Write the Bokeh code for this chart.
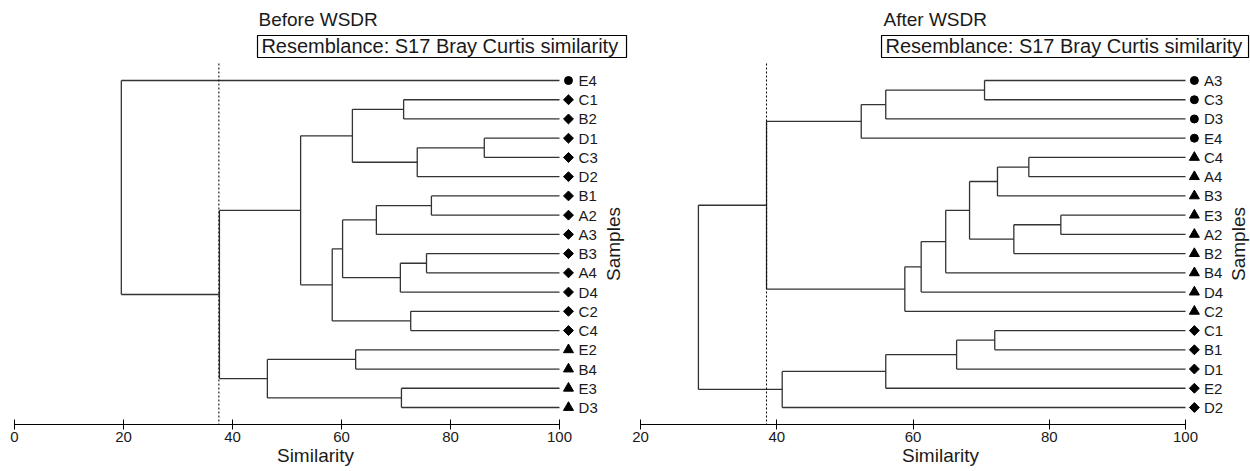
from bokeh.plotting import figure
from bokeh.layouts import row
from bokeh.models import Range1d, FixedTicker, ColumnDataSource, BoxAnnotation, Label
from bokeh.core.properties import value
from bokeh.embed import file_html
from bokeh.resources import INLINE

# ---------------- data ----------------
left_title = "Before WSDR"
right_title = "After WSDR"
resemblance = "Resemblance: S17 Bray Curtis similarity"
x_label = "Similarity"
y_label = "Samples"

left_leaves = ["E4", "C1", "B2", "D1", "C3", "D2", "B1", "A2", "A3",
               "B3", "A4", "D4", "C2", "C4", "E2", "B4", "E3", "D3"]
left_groups = ["g1"] + ["g2"] * 13 + ["g3"] * 4
# merges: (child a, child b, similarity); "mK" refers to merge K
left_merges = [
    ("C1", "B2", 71.4), ("D1", "C3", 86.2), ("m1", "D2", 73.9), ("m0", "m2", 62.0),
    ("B1", "A2", 76.5), ("m4", "A3", 66.4), ("B3", "A4", 75.6), ("m6", "D4", 70.8),
    ("m5", "m7", 60.2), ("C2", "C4", 72.7), ("m8", "m9", 58.3), ("m3", "m10", 52.5),
    ("E2", "B4", 62.6), ("E3", "D3", 71.0), ("m12", "m13", 46.4), ("m11", "m14", 37.6),
    ("E4", "m15", 19.6),
]
left_cut = 37.5
left_ticks = [0, 20, 40, 60, 80, 100]

right_leaves = ["A3", "C3", "D3", "E4", "C4", "A4", "B3", "E3", "A2",
                "B2", "B4", "D4", "C2", "C1", "B1", "D1", "E2", "D2"]
right_groups = ["g1"] * 4 + ["g3"] * 9 + ["g2"] * 5
right_merges = [
    ("A3", "C3", 70.5), ("m0", "D3", 56.0), ("m1", "E4", 52.4),
    ("C4", "A4", 77.0), ("m3", "B3", 72.4), ("E3", "A2", 81.7), ("m5", "B2", 74.8),
    ("m4", "m6", 68.3), ("m7", "B4", 64.8), ("m8", "D4", 61.2), ("m9", "C2", 58.8),
    ("m2", "m10", 38.5),
    ("C1", "B1", 72.0), ("m12", "D1", 66.4), ("m13", "E2", 56.0), ("m14", "D2", 40.8),
    ("m11", "m15", 28.5),
]
right_cut = 38.5
right_ticks = [20, 40, 60, 80, 100]

# ---------------- style ----------------
FONT = "Liberation Sans"
MARKERS = {"g1": "circle", "g2": "square", "g3": "triangle"}
MSIZE = {"g1": 8, "g2": 7, "g3": 10}
MANGLE = {"g1": 0.0, "g2": 0.7854, "g3": 0.0}
LINE = "#333333"
TXT = "#1a1a1a"
H = 471
Y_TOP, Y_BOT = -4.159, 17.884   # leaf-index units at top of canvas / axis line


def dendro_segments(leaves, merges):
    pos = {name: (100.0, float(i)) for i, name in enumerate(leaves)}
    x0, y0, x1, y1 = [], [], [], []
    for k, (a, b, h) in enumerate(merges):
        xa, ya = pos[a]
        xb, yb = pos[b]
        for (xc, yc) in ((xa, ya), (xb, yb)):
            x0.append(xc); y0.append(yc); x1.append(h); y1.append(yc)
        x0.append(h); y0.append(ya); x1.append(h); y1.append(yb)
        pos["m%d" % k] = (h, (ya + yb) / 2.0)
    return dict(x0=x0, y0=y0, x1=x1, y1=y1)


def panel(width, xr, leaves, groups, merges, cut, ticks, title, lay):
    p = figure(width=width, height=H, x_range=Range1d(*xr), y_range=Range1d(Y_BOT, Y_TOP),
               output_backend="svg", toolbar_location=None, y_axis_location=None,
               min_border_left=0, min_border_right=0, min_border_top=0,
               min_border_bottom=47)
    p.outline_line_color = None
    p.xgrid.visible = False
    p.ygrid.visible = False

    ax = p.xaxis[0]
    ax.bounds = (ticks[0], ticks[-1])
    ax.ticker = FixedTicker(ticks=ticks)
    ax.minor_tick_line_color = None
    ax.major_tick_in = 5
    ax.major_tick_out = 5
    ax.major_label_standoff = 2
    ax.axis_line_color = "black"
    ax.major_tick_line_color = "black"
    ax.major_label_text_font = FONT
    ax.major_label_text_font_size = "15px"
    ax.major_label_text_color = TXT
    ax.axis_label = x_label
    ax.axis_label_standoff = 0
    ax.axis_label_text_font = FONT
    ax.axis_label_text_font_size = "19px"
    ax.axis_label_text_font_style = "normal"
    ax.axis_label_text_color = TXT

    seg = ColumnDataSource(dendro_segments(leaves, merges))
    p.segment("x0", "y0", "x1", "y1", source=seg, line_color=LINE, line_width=1.3)

    # cut-off line
    p.segment(x0=[cut], y0=[lay["dash_top"]], x1=[cut], y1=[Y_BOT],
              line_color="black", line_width=1, line_dash="2 2")

    idx = list(range(len(leaves)))
    for g in ("g1", "g2", "g3"):
        ys = [i for i in idx if groups[i] == g]
        p.scatter(x=[lay["mx"]] * len(ys), y=ys, marker=MARKERS[g], size=MSIZE[g],
                  angle=MANGLE[g], color="black")
    p.text(x=[lay["lx"]] * len(leaves), y=idx, text=leaves, text_font=value(FONT),
           text_font_size="15px", text_baseline="middle", text_align="left",
           text_color=TXT)

    p.add_layout(Label(x=lay["sx"], y=8.5, text=y_label, angle=1.5708,
                       text_font=FONT, text_font_size="19px",
                       text_align="center", text_baseline="middle", text_color=TXT))
    p.add_layout(Label(x=lay["tx"], y=-3.17, text=title, text_font=FONT,
                       text_font_size="19px", text_baseline="middle", text_color=TXT))
    p.add_layout(BoxAnnotation(left=lay["bl"], right=lay["br"], top=-2.339, bottom=-1.196,
                               fill_color=None, fill_alpha=0, line_color="black",
                               line_alpha=1.0, line_width=1.2))
    p.add_layout(Label(x=lay["rx"], y=-1.768, text=resemblance, text_font=FONT,
                       text_font_size="20px", text_baseline="middle", text_color=TXT))
    return p


left = panel(630, (-2.569, 113.03), left_leaves, left_groups, left_merges, left_cut,
             left_ticks, left_title,
             dict(dash_top=-0.884, mx=101.65, lx=103.5, sx=109.9, tx=44.77,
                  bl=44.59, br=112.3, rx=45.3))
right = panel(620, (18.532, 109.54), right_leaves, right_groups, right_merges, right_cut,
              right_ticks, right_title,
              dict(dash_top=-0.884, mx=101.3, lx=102.7, sx=107.8, tx=55.67,
                   bl=55.38, br=109.25, rx=55.96))

layout = row(left, right)
open("out.html", "w").write(file_html(layout, INLINE))
